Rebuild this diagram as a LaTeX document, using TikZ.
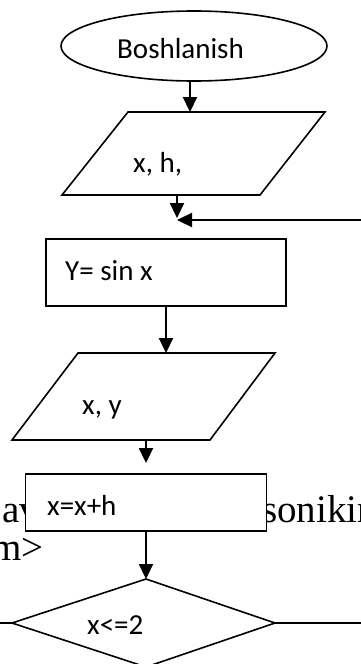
\documentclass[tikz,border=0pt]{standalone}
\usepackage{fontspec}
\setmainfont{Carlito}
\newfontfamily\bgserif{Liberation Serif}
\usetikzlibrary{arrows.meta,shapes.geometric}
\begin{document}
\begin{tikzpicture}[x=1pt,y=-1pt,
  shapeline/.style={line width=1.6pt},
  flow/.style={line width=2.2pt,-{Triangle[length=15pt,width=14pt]}},
  lbl/.style={anchor=base west,inner sep=0,font=\fontsize{29}{34}\selectfont},
  bg/.style={anchor=base west,inner sep=0,font=\bgserif\fontsize{39}{44}\selectfont}]
\useasboundingbox (0,0) rectangle (361,664);
\begin{scope}
\clip (0,0) rectangle (361,664);
% background page text fragments
\node[bg] (bgav) at (2,522) {av};
\node[bg] (bgson) at (262,522) {sonikir};
\node[bg] (bgm) at (-9,560) {m>};
% start ellipse
\node[ellipse,draw,shapeline,fill=white,minimum width=266pt,minimum height=70pt,inner sep=0] (start) at (194,46) {};
\node[lbl] (tstart) at (117,58) {Boshlanish};
% input parallelogram
\coordinate (p1a) at (128,112); \coordinate (p1b) at (325,112);
\coordinate (p1c) at (260,195); \coordinate (p1d) at (62,195);
\draw[shapeline,fill=white] (p1a) -- (p1b) -- (p1c) -- (p1d) -- cycle;
\node[lbl] (tp1) at (133,172) {x, h,};
% arrows to junction
\coordinate (a1s) at (190,81); \coordinate (a1e) at (190,112);
\draw[flow] (a1s) -- (a1e);
\coordinate (a2s) at (177,195); \coordinate (a2e) at (177,218);
\draw[flow] (a2s) -- (a2e);
\coordinate (loopin) at (363,220); \coordinate (join) at (177,220);
\draw[flow] (loopin) -- (join);
% process box 1
\node[draw,shapeline,fill=white,minimum width=240pt,minimum height=67pt,inner sep=0] (r1) at (166,272.5) {};
\node[lbl] (tr1) at (65,280) {Y= sin x};
% output parallelogram
\coordinate (p2a) at (78,353); \coordinate (p2b) at (275,353);
\coordinate (p2c) at (210,440); \coordinate (p2d) at (12,440);
\coordinate (a4e) at (166,353);
\draw[flow] (r1.south) -- (a4e);
\draw[shapeline,fill=white] (p2a) -- (p2b) -- (p2c) -- (p2d) -- cycle;
\node[lbl] (tp2) at (82,414) {x, y};
\coordinate (a5s) at (146,440); \coordinate (a5e) at (146,463);
\draw[flow] (a5s) -- (a5e);
% process box 2
\node[draw,shapeline,fill=white,minimum width=241pt,minimum height=57pt,inner sep=0] (r2) at (146,502.5) {};
\node[lbl] (tr2) at (47,515) {x=x+h};
% decision
\coordinate (dt) at (146,579); \coordinate (dr) at (275,623);
\coordinate (db) at (146,667); \coordinate (dl) at (12,623);
\draw[flow] (r2.south) -- (dt);
\draw[shapeline,fill=white] (dt) -- (dr) -- (db) -- (dl) -- cycle;
\node[lbl] (td) at (87,634) {x<=2};
\coordinate (noend) at (-2,623); \coordinate (yesend) at (363,623);
\draw[shapeline] (dl) -- (noend);
\draw[shapeline] (dr) -- (yesend);
\end{scope}
\end{tikzpicture}
\end{document}
